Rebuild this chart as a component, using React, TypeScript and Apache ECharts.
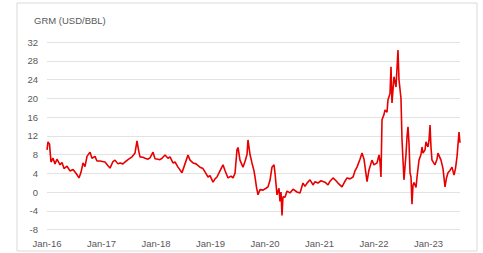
import React, { useEffect, useRef } from "react";
import * as echarts from "echarts";

// Dates as decimal years
const dateYears = [
  2016.0, 2016.018, 2016.046, 2016.073, 2016.11, 2016.147, 2016.183, 2016.239, 2016.275, 2016.312,
  2016.367, 2016.422, 2016.477, 2016.532, 2016.587, 2016.624, 2016.661, 2016.697, 2016.734, 2016.789,
  2016.826, 2016.881, 2016.917, 2016.972,
  2017.064, 2017.119, 2017.156, 2017.211, 2017.248, 2017.303, 2017.339, 2017.394, 2017.431, 2017.486,
  2017.56, 2017.615, 2017.651, 2017.679, 2017.706, 2017.761, 2017.798, 2017.853, 2017.89, 2017.945,
  2017.982,
  2018.037, 2018.073, 2018.11, 2018.165, 2018.22, 2018.257, 2018.312, 2018.349, 2018.404, 2018.477,
  2018.532, 2018.587, 2018.624, 2018.679, 2018.734, 2018.807, 2018.862, 2018.899, 2018.954, 2018.991,
  2019.046, 2019.083, 2019.119, 2019.174, 2019.229, 2019.266, 2019.321, 2019.376, 2019.413, 2019.45,
  2019.486, 2019.505, 2019.541, 2019.596, 2019.633, 2019.67, 2019.688, 2019.725, 2019.761, 2019.798,
  2019.817, 2019.844, 2019.872, 2019.908, 2019.963,
  2020.018, 2020.055, 2020.092, 2020.128, 2020.165, 2020.183, 2020.22, 2020.257, 2020.275, 2020.294,
  2020.312, 2020.33, 2020.367, 2020.404, 2020.459, 2020.514, 2020.587, 2020.642, 2020.697, 2020.734,
  2020.771, 2020.826, 2020.881, 2020.917, 2020.972,
  2021.028, 2021.101, 2021.156, 2021.193, 2021.248, 2021.303, 2021.339, 2021.413, 2021.468, 2021.505,
  2021.56, 2021.615, 2021.651, 2021.688, 2021.743, 2021.78, 2021.817, 2021.872, 2021.908, 2021.963,
  2022.0, 2022.055, 2022.092, 2022.11, 2022.128, 2022.147, 2022.183, 2022.202, 2022.239, 2022.257,
  2022.294, 2022.312, 2022.33, 2022.367, 2022.404, 2022.44, 2022.459, 2022.495, 2022.514, 2022.55,
  2022.587, 2022.606, 2022.624, 2022.642, 2022.661, 2022.679, 2022.697, 2022.716, 2022.734, 2022.771,
  2022.789, 2022.826, 2022.862, 2022.881, 2022.899, 2022.936, 2022.954, 2022.991,
  2023.009, 2023.028, 2023.046, 2023.064, 2023.119, 2023.156, 2023.174, 2023.229, 2023.266, 2023.303,
  2023.33, 2023.358, 2023.394, 2023.431, 2023.468, 2023.495, 2023.523, 2023.56, 2023.578,
];

// GRM values (USD/BBL)
const grmValues = [
  9.0, 10.7, 10.2, 6.4, 7.2, 6.0, 7.0, 5.8, 6.3, 5.0,
  5.5, 4.5, 4.8, 4.0, 3.0, 4.2, 6.2, 5.4, 7.6, 8.5,
  7.2, 7.6, 6.6, 6.6,
  6.4, 5.6, 5.1, 6.5, 6.8, 6.0, 6.2, 6.0, 6.4, 6.9,
  7.5, 8.3, 10.9, 9.0, 7.5, 7.4, 7.2, 7.0, 7.3, 8.5,
  7.1,
  7.0, 6.9, 7.2, 7.9, 7.2, 7.5, 6.2, 6.4, 5.3, 4.1,
  6.0, 7.9, 6.8, 6.2, 6.0, 5.3, 5.0, 4.3, 3.2, 3.5,
  2.1, 2.8, 3.2, 4.5, 5.8, 4.6, 3.0, 3.4, 3.0, 4.0,
  9.0, 9.5, 6.8, 5.3, 6.5, 8.0, 11.1, 8.0, 6.2, 4.5,
  3.2, 1.0, -0.6, 0.5, 0.4,
  0.8, 1.1, 2.5, 5.3, 5.8, 4.1, -0.6, 0.8, -2.0, 0.0,
  -5.0, -1.0, -1.1, 0.2, -0.2, 0.6, 0.0, -0.2, 1.9, 1.2,
  1.9, 2.6, 1.5, 2.2, 1.9,
  2.4, 2.1, 1.5, 2.3, 3.0, 2.4, 1.9, 1.1, 2.3, 3.0,
  2.8, 3.2, 4.5, 5.3, 7.0, 8.3, 7.0, 2.2, 4.7, 6.8,
  5.8, 6.2, 7.9, 6.5, 3.2, 15.4, 16.5, 17.5, 17.0, 19.7,
  21.0, 26.7, 19.0, 24.6, 22.4, 30.3, 23.9, 20.0, 11.1, 2.6,
  8.0, 11.8, 13.9, 10.5, 4.1, 3.2, -2.6, 1.5, 2.0, 1.0,
  3.2, 6.8, 8.0, 9.6, 8.3, 9.0, 10.7, 9.6,
  11.0, 14.3, 9.5, 6.8, 5.8, 7.0, 8.3, 6.8, 5.0, 1.1,
  3.0, 4.1, 4.6, 5.3, 3.6, 5.0, 7.5, 12.8, 10.5,
];

const yAxisMin = -8;
const yAxisMax = 32;
const yAxisStep = 4;
const xAxisStartYear = 2016;
const xAxisEndYear = 2023.578;
const monthLabel = "Jan";
const titleText = "GRM (USD/BBL)";

export default function App() {
  const ref = useRef<HTMLDivElement>(null);
  useEffect(() => {
    if (!ref.current) return;
    const chart = echarts.init(ref.current, null, { renderer: "svg" });
    const font = "Liberation Sans";
    const gray = "#595959";
    chart.setOption({
      animation: false,
      backgroundColor: "#ffffff",
      graphic: [
        {
          type: "rect",
          shape: { x: 17, y: 3, width: 460, height: 248 },
          style: { fill: "none", stroke: "#d9d9d9", lineWidth: 1 },
          silent: true,
        },
        {
          type: "text",
          left: 34,
          top: 15,
          style: { text: titleText, fill: gray, font: `9.5px "${font}"` },
        },
      ],
      grid: { left: 47, right: 23, top: 42, bottom: 23.5, containLabel: false },
      xAxis: {
        type: "value",
        min: xAxisStartYear,
        max: xAxisEndYear,
        interval: 1,
        axisLine: { show: false },
        axisTick: { show: false },
        splitLine: { show: false },
        axisLabel: {
          showMaxLabel: false,
          color: gray,
          fontFamily: font,
          fontSize: 9.5,
          margin: 9,
          formatter: (v: number) =>
            Math.abs(v - Math.round(v)) < 1e-6 ? `${monthLabel}-${String(Math.round(v) % 100).padStart(2, "0")}` : "",
        },
      },
      yAxis: {
        type: "value",
        min: yAxisMin,
        max: yAxisMax,
        interval: yAxisStep,
        axisLine: { show: false },
        axisTick: { show: false },
        splitLine: { show: true, lineStyle: { color: "#e3e3e3", width: 1 } },
        axisLabel: { color: gray, fontFamily: font, fontSize: 9.5, margin: 9 },
      },
      series: [
        {
          type: "line",
          data: dateYears.map((d, i) => [d, grmValues[i]]),
          showSymbol: false,
          symbol: "none",
          lineStyle: { color: "#e80000", width: 1.6 },
        },
      ],
    });
    return () => chart.dispose();
  }, []);
  return (
    <div
      ref={ref}
      style={{ position: "fixed", left: 0, top: 0, width: 483, height: 253 }}
    />
  );
}
